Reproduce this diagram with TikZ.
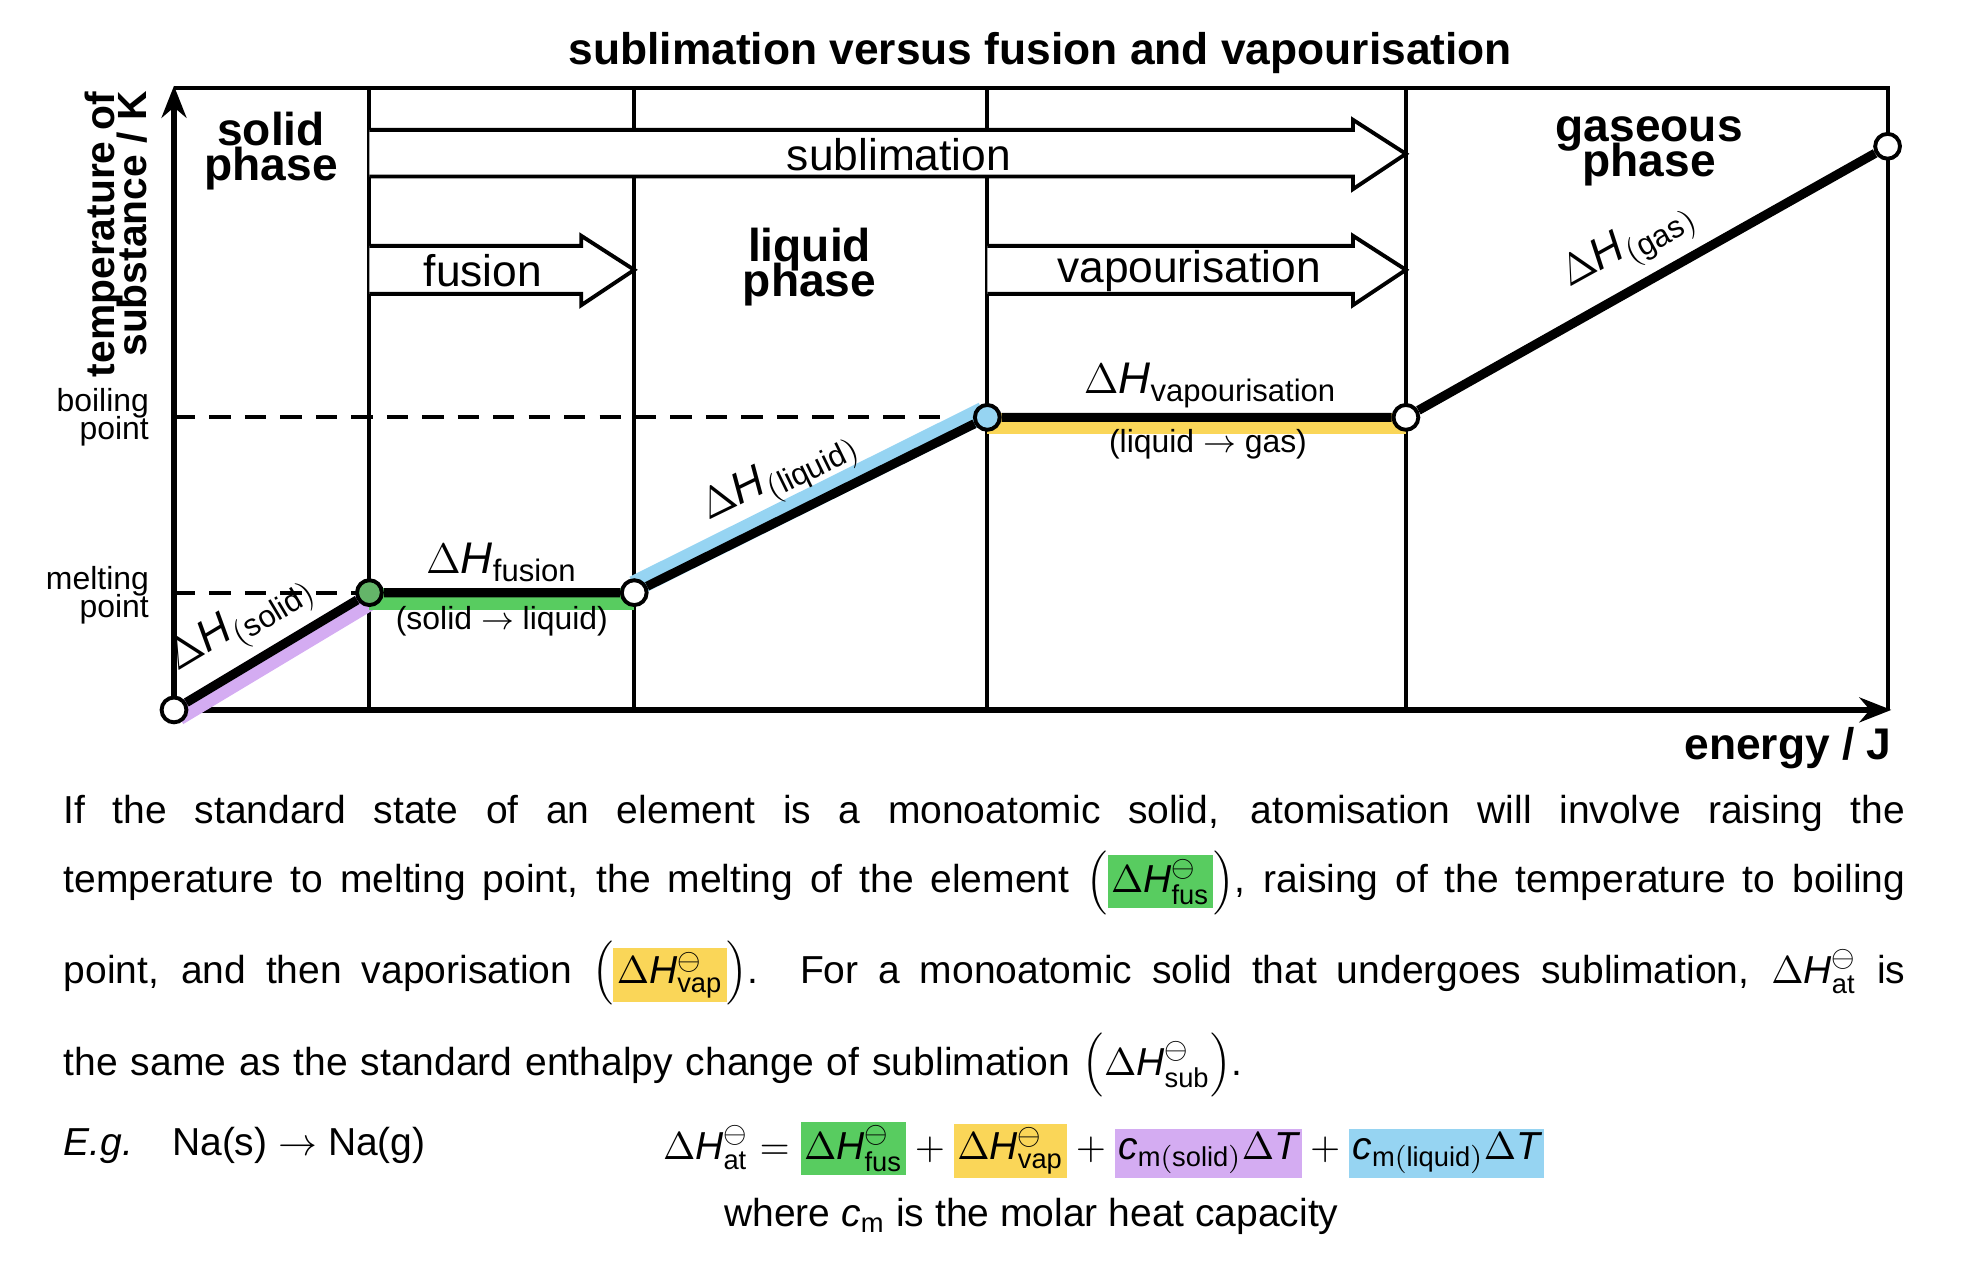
\documentclass[tikz,border=0pt]{standalone}
\usepackage{fontspec}
\setmainfont{Liberation Sans}
\usetikzlibrary{arrows.meta}
\definecolor{hlpurple}{RGB}{212,172,242}
\definecolor{hlgreen}{RGB}{88,204,96}
\definecolor{hlblue}{RGB}{150,212,242}
\definecolor{hlyellow}{RGB}{250,214,88}
\newcommand{\hlbox}[2]{{\setlength{\fboxsep}{1pt}\colorbox{#1}{$#2$}}}
\newcommand{\std}{^{\ominus}}
\newcommand{\jline}[1]{{\hyphenpenalty=10000\parfillskip=0pt\noindent #1\par}}
\tikzset{
  axis/.style={line width=1.6pt,-{Stealth[length=9pt,width=7pt]}},
  frameline/.style={line width=1.1pt},
  procarrow/.style={line width=1.1pt, fill=white},
  curve/.style={line width=2.6pt},
  band/.style={line width=6pt},
  point/.style={circle, draw, line width=1.1pt, fill=white, minimum size=7pt, inner sep=0pt},
  phase/.style={font=\bfseries\fontsize{13}{13}\selectfont, align=center},
  small/.style={font=\fontsize{9}{10}\selectfont},
  label/.style={font=\fontsize{12.5}{13}\selectfont},
  body/.style={font=\fontsize{11}{14}\selectfont, text width=18.25cm, align=justify, inner sep=0pt, anchor=west},
}
\begin{document}
\begin{tikzpicture}[x=0.0125cm, y=-0.0125cm]
    \useasboundingbox (0,0) rectangle (1560,1008);

    % Frame and phase boundaries
    \draw [frameline] (138,70) -- (1497,70) -- (1497,563);
    \foreach \xb in {293,503,783,1115}
        \draw [frameline] (\xb,70) -- (\xb,563);

    % Process arrows
    \draw [procarrow] (293,103) -- (1073,103) -- (1073,95) -- (1115,122) -- (1073,150) -- (1073,140) -- (293,140);
    \draw [procarrow] (293,195) -- (461,195) -- (461,187) -- (503,214) -- (461,242) -- (461,233) -- (293,233);
    \draw [procarrow] (783,195) -- (1073,195) -- (1073,187) -- (1115,214) -- (1073,242) -- (1073,233) -- (783,233);
    \node (sublim) [label] at (713,123) {sublimation};
    \node (fusion) [label] at (383,215) {fusion};
    \node (vapour) [label] at (943,215) {vapourisation};

    % Dashed levels
    \draw [line width=1.1pt, dash pattern=on 6pt off 4pt] (138,331) -- (783,331);
    \draw [line width=1.1pt, dash pattern=on 6pt off 4pt] (138,470) -- (293,470);

    % Axes
    \draw [axis] (138,563) -- (138,68);
    \draw [axis] (138,563) -- (1500,563);

    % Colour bands
    \draw [band, hlpurple] (141,567) -- (296,474);
    \draw [band, hlgreen] (293,475) -- (503,475);
    \draw [band, hlblue] (503,465) -- (780,327);
    \draw [band, hlyellow] (783,336) -- (1115,336);

    % Heating curve
    \node (p0) [point] at (138,563) {};
    \node (p1) [point, fill=hlgreen!70!gray] at (293,470) {};
    \node (p2) [point] at (503,470) {};
    \node (p3) [point, fill=hlblue] at (783,331) {};
    \node (p4) [point] at (1115,331) {};
    \node (p5) [point] at (1497,116) {};
    \draw [curve] (p0) -- (p1) -- (p2) -- (p3) -- (p4) -- (p5);

    % Curve labels
    \node (hsolid) [label, rotate=31] at (192,496) {$\Delta\mathit{H}_{\mathrm{(solid)}}$};
    \node (hfus) [label] at (398,446) {$\Delta\mathit{H}_{\mathrm{fusion}}$};
    \node (fusinfo) [small] at (398,493) {(solid $\rightarrow$ liquid)};
    \node (hliq) [label, rotate=26] at (619,379) {$\Delta\mathit{H}_{\mathrm{(liquid)}}$};
    \node (hvap) [label] at (960,306) {$\Delta\mathit{H}_{\mathrm{vapourisation}}$};
    \node (vapinfo) [small] at (958,352) {(liquid $\rightarrow$ gas)};
    \node (hgas) [label, rotate=29] at (1292,196) {$\Delta\mathit{H}_{\mathrm{(gas)}}$};

    % Phases and axis titles
    \node (solid) [phase] at (215,120) {solid\\[-3pt]phase};
    \node (liquid) [phase] at (642,212) {liquid\\[-3pt]phase};
    \node (gas) [phase] at (1308,120) {gaseous\\[-3pt]phase};
    \node (title) [font=\bfseries\fontsize{12.5}{13}\selectfont] at (825,42) {sublimation versus fusion and vapourisation};
    \node (ylab) [rotate=90, anchor=east, align=right, inner sep=0pt, font=\bfseries\fontsize{11.5}{11}\selectfont] at (92,72) {temperature of\\[-2pt]substance / K};
    \node (boil) [small, align=right, anchor=east] at (128,331) {boiling\\[-2pt]point};
    \node (melt) [small, align=right, anchor=east] at (128,472) {melting\\[-2pt]point};
    \node (xlab) [font=\bfseries\fontsize{12.5}{13}\selectfont] at (1418,593) {energy / J};

    % Text below
    \node (line1) [body] at (50,645) {\jline{If the standard state of an element is a monoatomic solid, atomisation will involve raising the}};
    \node (line2) [body] at (50,700) {\jline{temperature to melting point, the melting of the element $\left(\hlbox{hlgreen}{\Delta\mathit{H}\std_{\mathrm{fus}}}\right)$, raising of the temperature to boiling}};
    \node (line3) [body] at (50,772) {\jline{point, and then vaporisation $\left(\hlbox{hlyellow}{\Delta\mathit{H}\std_{\mathrm{vap}}}\right)$. For a monoatomic solid that undergoes sublimation, $\Delta\mathit{H}\std_{\mathrm{at}}$ is}};
    \node (line4) [body, align=left] at (50,845) {the same as the standard enthalpy change of sublimation $\left(\Delta\mathit{H}\std_{\mathrm{sub}}\right)$.};
    \node (eg) [font=\fontsize{11}{14}\selectfont, anchor=west, inner sep=0pt] at (50,908) {\textit{E.g.}\quad Na(s) $\rightarrow$ Na(g)};
    \node (eqn) [font=\fontsize{11}{14}\selectfont] at (875,912) {$\Delta\mathit{H}\std_{\mathrm{at}} = \hlbox{hlgreen}{\Delta\mathit{H}\std_{\mathrm{fus}}} + \hlbox{hlyellow}{\Delta\mathit{H}\std_{\mathrm{vap}}} + \hlbox{hlpurple}{\mathit{c}_{\mathrm{m(solid)}}\Delta\mathit{T}} + \hlbox{hlblue}{\mathit{c}_{\mathrm{m(liquid)}}\Delta\mathit{T}}$};
    \node (where) [font=\fontsize{11}{14}\selectfont] at (818,965) {where $\mathit{c}_{\mathrm{m}}$ is the molar heat capacity};
\end{tikzpicture}
\end{document}
